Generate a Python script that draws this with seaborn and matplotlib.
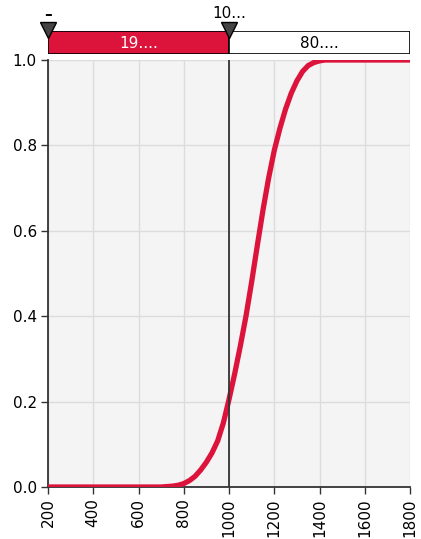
import matplotlib
matplotlib.use("Agg")
import matplotlib.pyplot as plt
import seaborn as sns
import pandas as pd

# Data (CDF curve)
x_vals = [200, 700, 750, 775, 800, 825, 850, 875, 900, 925, 950, 975, 1000, 1025, 1050,
          1075, 1100, 1125, 1150, 1175, 1200, 1225, 1250, 1275, 1300, 1325, 1350,
          1375, 1400, 1425, 1450, 1800]
cdf_vals = [0.0, 0.0, 0.002, 0.004, 0.008, 0.015, 0.025, 0.040, 0.058, 0.080, 0.108, 0.150,
            0.205, 0.265, 0.33, 0.40, 0.48, 0.565, 0.648, 0.723, 0.788, 0.84, 0.885,
            0.922, 0.951, 0.973, 0.987, 0.994, 0.998, 1.0, 1.0, 1.0]
threshold = 1000
left_label = "19...."
right_label = "80...."
left_marker_label = "–"
threshold_label = "10..."
x_ticks = [200, 400, 600, 800, 1000, 1200, 1400, 1600, 1800]
y_ticks = [0.0, 0.2, 0.4, 0.6, 0.8, 1.0]

df = pd.DataFrame({"x": x_vals, "cdf": cdf_vals})

sns.set_theme(style="white")
plt.rcParams['font.family'] = ['DejaVu Sans']
plt.rcParams['text.color'] = 'black'

W, H = 421, 539
FS = 11
fig = plt.figure(figsize=(W / 100, H / 100), dpi=100)
ax = fig.add_axes([48 / W, 1 - 487 / H, (410 - 48) / W, (487 - 60) / H])
ax.set_facecolor("#f4f4f4")

sns.lineplot(data=df, x="x", y="cdf", ax=ax, color="#dc143c", linewidth=3.8, zorder=3)
ax.axvline(threshold, color="#333333", linewidth=1.3, zorder=4)

ax.set_xlim(200, 1800)
ax.set_ylim(0, 1)
ax.set_xticks(x_ticks)
ax.set_yticks(y_ticks)
ax.set_xticklabels([str(t) for t in x_ticks], rotation=90, fontsize=FS)
ax.set_yticklabels([f"{t:.1f}" for t in y_ticks], fontsize=FS)
ax.grid(True, color="#dcdcdc", linewidth=1)
ax.set_axisbelow(True)
ax.set_xlabel("")
ax.set_ylabel("")
for s in ["top", "right"]:
    ax.spines[s].set_visible(False)
for s in ["left", "bottom"]:
    ax.spines[s].set_color("#333333")
    ax.spines[s].set_linewidth(1.3)
ax.tick_params(axis="both", which="both", direction="out", length=5, width=1,
               color="#333333", labelcolor="black", bottom=True, left=True, pad=3)

# Top bar
bx = fig.add_axes([48 / W, 1 - 54 / H, (410 - 48) / W, 23 / H])
bx.set_xlim(200, 1800)
bx.set_ylim(0, 1)
bx.axis("off")
bx.barh(0.5, threshold - 200, left=200, height=1, color="#dc143c",
        edgecolor="black", linewidth=1.2)
bx.barh(0.5, 1800 - threshold, left=threshold, height=1, color="white",
        edgecolor="black", linewidth=1.2)
bx.text((200 + threshold) / 2, 0.45, left_label, color="white", ha="center",
        va="center", fontsize=FS)
bx.text((threshold + 1800) / 2, 0.45, right_label, color="black", ha="center",
        va="center", fontsize=FS)
bx.plot([200, threshold], [1.05, 1.05], linestyle="none", marker="v", markersize=11,
        color="#444444", markeredgecolor="black", clip_on=False, zorder=5)
bx.text(200, 1.72, left_marker_label, ha="center", va="center", fontsize=FS,
        fontweight="bold", color="black")
bx.text(threshold, 1.75, threshold_label, ha="center", va="center", fontsize=FS,
        color="black")

fig.savefig("out.png", dpi=100)
